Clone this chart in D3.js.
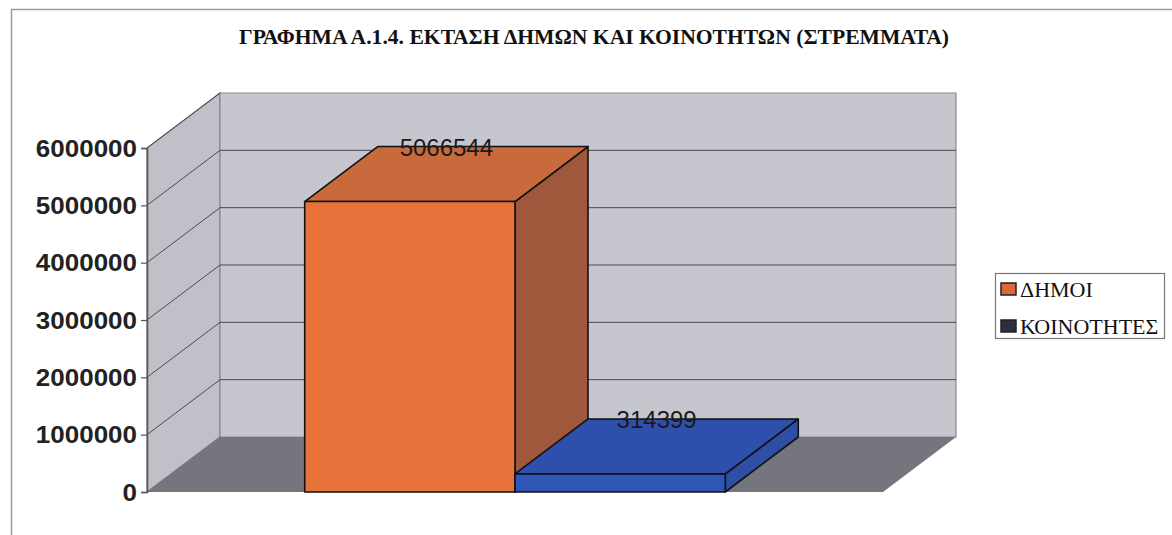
<!DOCTYPE html>
<html><head><meta charset="utf-8">
<script src="https://cdn.jsdelivr.net/npm/d3@7/dist/d3.min.js"></script>
<style>body{margin:0;background:#fff}svg{display:block}</style>
</head><body>
<svg id="chart" width="1172" height="535"></svg>
<script>
const title = "ΓΡΑΦΗΜΑ Α.1.4. ΕΚΤΑΣΗ ΔΗΜΩΝ ΚΑΙ ΚΟΙΝΟΤΗΤΩΝ (ΣΤΡΕΜΜΑΤΑ)";
const categories = [""];
const seriesNames = ["ΔΗΜΟΙ", "ΚΟΙΝΟΤΗΤΕΣ"];
const seriesValues = [5066544, 314399];
const yTicks = [0, 1000000, 2000000, 3000000, 4000000, 5000000, 6000000];

const faceColors = [
  {front: "#e8733a", top: "#c96a3c", side: "#a0583c", legend: "#d9683a"},
  {front: "#2f55b6", top: "#2e50ac", side: "#2f4fa6", legend: "#2b2f45"}
];

(function () {
const svg = d3.select("#chart");
const DX = 73, DY = -55;
const pLeft = 147, pRight = 883, pBottom = 492, pTop = 148;

const y = d3.scaleLinear().domain([0, 6000000]).range([pBottom, pTop]);
const x0 = d3.scaleBand().domain(categories).range([pLeft, pRight]).padding(0);
const x1 = d3.scaleBand().domain(seriesNames).range([0, x0.bandwidth()])
  .paddingInner(0).paddingOuter(0.75);

// frame
svg.append("line").attr("x1", 11).attr("y1", 9.5).attr("x2", 1172).attr("y2", 9.5)
  .attr("stroke", "#9a9a9a").attr("stroke-width", 1.5);
svg.append("line").attr("x1", 11.5).attr("y1", 9).attr("x2", 11.5).attr("y2", 535)
  .attr("stroke", "#9a9a9a").attr("stroke-width", 1.5);

// title
svg.append("text").attr("x", 594).attr("y", 44).attr("text-anchor", "middle")
  .attr("font-family", "Liberation Serif, Times New Roman, serif").attr("font-weight", "bold")
  .attr("font-size", 21).attr("textLength", 710).attr("lengthAdjust", "spacingAndGlyphs")
  .attr("fill", "#111").text(title);

const pt = (a) => a.map(p => p.join(",")).join(" ");
const y0 = y(0), yMax = y(6000000);

// side wall
svg.append("polygon")
  .attr("points", pt([[pLeft, y0], [pLeft + DX, y0 + DY], [pLeft + DX, yMax + DY], [pLeft, yMax]]))
  .attr("fill", "#c0c0c8").attr("stroke", "#7a7a82").attr("stroke-width", 1.2);
// back wall
svg.append("polygon")
  .attr("points", pt([[pLeft + DX, y0 + DY], [pRight + DX, y0 + DY], [pRight + DX, yMax + DY], [pLeft + DX, yMax + DY]]))
  .attr("fill", "#c6c6ce").attr("stroke", "#8a8a92").attr("stroke-width", 1.2);
// gridlines
yTicks.forEach(v => {
  if (v === 0) return;
  const yy = y(v);
  svg.append("line").attr("x1", pLeft).attr("y1", yy).attr("x2", pLeft + DX).attr("y2", yy + DY)
    .attr("stroke", "#4a4a52").attr("stroke-width", 1);
  if (v < 6000000)
    svg.append("line").attr("x1", pLeft + DX).attr("y1", yy + DY).attr("x2", pRight + DX).attr("y2", yy + DY)
      .attr("stroke", "#4a4a52").attr("stroke-width", 1);
});
// floor
svg.append("polygon")
  .attr("points", pt([[pLeft, y0], [pRight, y0], [pRight + DX, y0 + DY], [pLeft + DX, y0 + DY]]))
  .attr("fill", "#75757d");

// axis
const axis = d3.axisLeft(y).tickValues(yTicks).tickSize(6).tickPadding(4).tickFormat(d3.format("d"));
const ag = svg.append("g").attr("transform", `translate(${pLeft},0)`).call(axis);
ag.select(".domain").attr("stroke", "#555").attr("stroke-width", 1.5);
ag.selectAll(".tick line").attr("stroke", "#555").attr("stroke-width", 1.2);
ag.selectAll(".tick text")
  .attr("font-family", "Liberation Sans, Arial, sans-serif").attr("font-weight", "bold")
  .attr("font-size", 23).attr("fill", "#222")
  .attr("x", -10 / 1.13).attr("dy", "0.36em")
  .attr("transform", "scale(1.13,1)");

// bars
seriesNames.forEach((s, i) => {
  const v = seriesValues[i];
  const xa = x0(categories[0]) + x1(s), xb = xa + x1.bandwidth();
  const yt = y(v), yb = y(0);
  const c = faceColors[i];
  const g = svg.append("g").attr("stroke", "#111").attr("stroke-width", 1.6).attr("stroke-linejoin", "round");
  g.append("polygon").attr("points", pt([[xb, yb], [xb + DX, yb + DY], [xb + DX, yt + DY], [xb, yt]])).attr("fill", c.side);
  g.append("polygon").attr("points", pt([[xa, yt], [xb, yt], [xb + DX, yt + DY], [xa + DX, yt + DY]])).attr("fill", c.top);
  g.append("rect").attr("x", xa).attr("y", yt).attr("width", xb - xa).attr("height", yb - yt).attr("fill", c.front);
  svg.append("text").attr("x", (xa + xb + DX) / 2).attr("y", yt + DY + 9)
    .attr("text-anchor", "middle").attr("font-family", "Liberation Sans, Arial, sans-serif")
    .attr("font-size", 24).attr("fill", "#1a1a1a").text(d3.format("d")(v));
});

// legend
const lg = svg.append("g");
lg.append("rect").attr("x", 995.5).attr("y", 273.5).attr("width", 169).attr("height", 65)
  .attr("fill", "#fff").attr("stroke", "#777").attr("stroke-width", 1.2);
seriesNames.forEach((s, i) => {
  const yy = 283 + i * 37;
  lg.append("rect").attr("x", 1001).attr("y", yy).attr("width", 15).attr("height", 12)
    .attr("fill", faceColors[i].legend).attr("stroke", "#222").attr("stroke-width", 1.5);
  lg.append("text").attr("transform", `translate(1020,${yy + 14}) scale(1.1,1)`)
    .attr("font-family", "Liberation Serif, Times New Roman, serif").attr("font-size", 20)
    .attr("fill", "#111").text(s);
});
})();
</script>
</body></html>
